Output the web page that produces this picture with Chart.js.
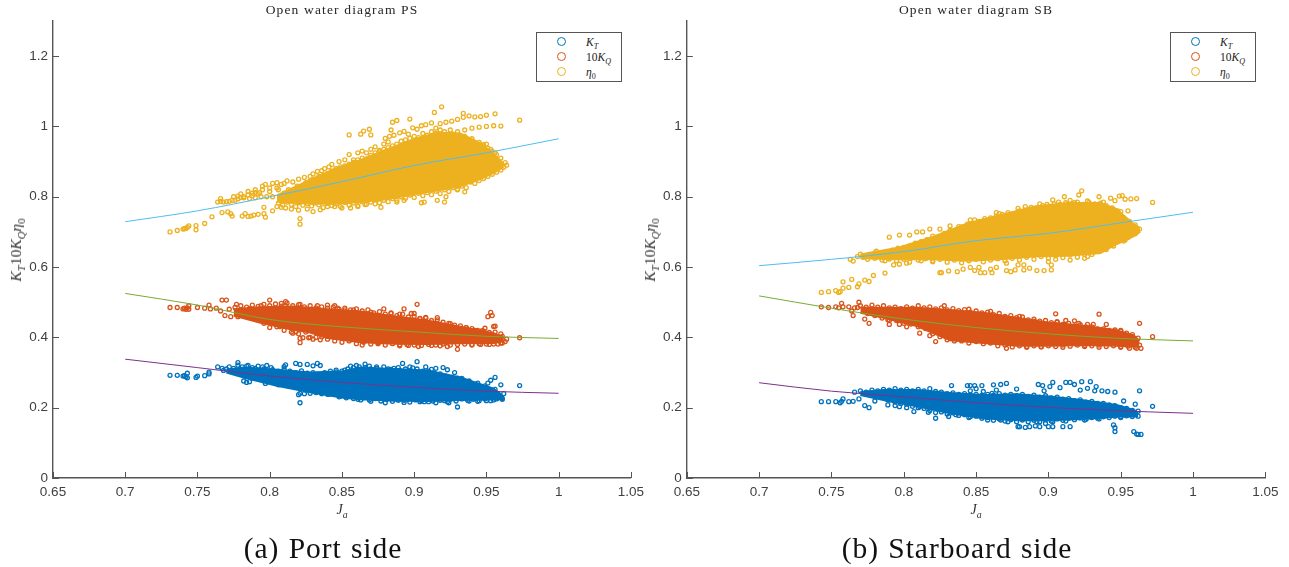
<!DOCTYPE html>
<html>
<head>
<meta charset="utf-8">
<title>Open water diagram</title>
<script src="https://cdn.jsdelivr.net/npm/chart.js@4/dist/chart.umd.min.js"></script>
<style>
html,body{margin:0;padding:0;background:#fff;}
#page{position:relative;width:1289px;height:567px;overflow:hidden;font-family:"Liberation Serif",serif;color:#222;}
canvas{position:absolute;top:0;}
.txt{position:absolute;white-space:nowrap;transform:translate(-50%,-50%);}
.title{font-size:13.5px;letter-spacing:1.15px;top:10px;color:#262626;}
.xlab{font-size:14px;font-style:italic;top:510px;color:#333;}
.ylab{font-size:15.5px;font-style:italic;top:250px;transform:translate(-50%,-50%) rotate(-90deg);color:#333;}
.cap{font-size:29.5px;letter-spacing:.95px;word-spacing:1px;top:548px;color:#111;}
sub{font-size:.7em;line-height:0;}
.up{font-style:normal;}
.legend{position:absolute;top:32px;height:48px;border:1.4px solid #555;background:#fff;}
.legend .m{position:absolute;left:20px;width:7px;height:7px;border-radius:50%;border:1.7px solid;}
.legend .l{position:absolute;left:49px;font-size:11.5px;font-style:italic;line-height:14px;color:#222;white-space:nowrap;}
</style>
</head>
<body>
<div id="page">
  <canvas id="chartPS" width="650" height="520" style="left:0"></canvas>
  <canvas id="chartSB" width="649" height="520" style="left:640px"></canvas>
  <div class="txt title" style="left:342px">Open water diagram PS</div>
  <div class="txt title" style="left:976px">Open water diagram SB</div>
  <div class="txt xlab" style="left:342px">J<sub>a</sub></div>
  <div class="txt xlab" style="left:976px">J<sub>a</sub></div>
  <div class="txt ylab" style="left:16px">K<sub>T</sub><span class="up">10</span>K<sub>Q</sub>η<sub class="up">0</sub></div>
  <div class="txt ylab" style="left:650px">K<sub>T</sub><span class="up">10</span>K<sub>Q</sub>η<sub class="up">0</sub></div>
  <div class="txt cap" style="left:323px">(a) Port side</div>
  <div class="txt cap" style="left:957px">(b) Starboard side</div>
  <div class="legend" id="legPS" style="left:536px;width:84px"></div>
  <div class="legend" id="legSB" style="left:1170px;width:84px"></div>
</div>
<script>
// axis ticks
var xTicks = [0.65, 0.7, 0.75, 0.8, 0.85, 0.9, 0.95, 1, 1.05];
var yTicks = [0, 0.2, 0.4, 0.6, 0.8, 1, 1.2];

// fitted curves, same J values for all of them
var fitJ = [0.7, 0.75, 0.8, 0.85, 0.9, 0.95, 1];
var psFitKT = [0.338, 0.314, 0.290, 0.272, 0.258, 0.247, 0.241];
var psFitKQ = [0.525, 0.492, 0.451, 0.430, 0.416, 0.403, 0.397];
var psFitEta = [0.729, 0.760, 0.800, 0.843, 0.889, 0.925, 0.965];
var sbFitKT = [0.271, 0.247, 0.231, 0.214, 0.201, 0.191, 0.184];
var sbFitKQ = [0.518, 0.483, 0.452, 0.428, 0.410, 0.397, 0.390];
var sbFitEta = [0.604, 0.622, 0.644, 0.675, 0.696, 0.726, 0.756];

// the solid middle of each cloud, read as upper and lower edge
var psKTCoreJ = [0.770, 0.782, 0.805, 0.828, 0.851, 0.863, 0.886, 0.909, 0.932, 0.955, 0.962];
var psKTCoreHi = [0.308, 0.314, 0.308, 0.300, 0.304, 0.314, 0.310, 0.306, 0.286, 0.254, 0.231];
var psKTCoreLo = [0.300, 0.286, 0.262, 0.244, 0.228, 0.224, 0.220, 0.219, 0.222, 0.223, 0.224];
var psKQCoreJ = [0.775, 0.793, 0.816, 0.828, 0.840, 0.863, 0.886, 0.909, 0.932, 0.955, 0.962];
var psKQCoreHi = [0.480, 0.486, 0.488, 0.484, 0.480, 0.474, 0.460, 0.448, 0.430, 0.412, 0.399];
var psKQCoreLo = [0.462, 0.442, 0.422, 0.414, 0.398, 0.386, 0.382, 0.381, 0.383, 0.384, 0.389];
var psEtaCoreJ = [0.805, 0.828, 0.844, 0.863, 0.881, 0.900, 0.916, 0.932, 0.946, 0.955, 0.962];
var psEtaCoreHi = [0.804, 0.848, 0.878, 0.905, 0.935, 0.964, 0.982, 0.980, 0.952, 0.922, 0.893];
var psEtaCoreLo = [0.786, 0.780, 0.780, 0.785, 0.793, 0.808, 0.818, 0.830, 0.850, 0.868, 0.884];

var sbKTCoreJ = [0.770, 0.786, 0.809, 0.832, 0.855, 0.878, 0.901, 0.924, 0.947, 0.959, 0.962];
var sbKTCoreHi = [0.245, 0.250, 0.250, 0.242, 0.236, 0.238, 0.232, 0.221, 0.208, 0.194, 0.186];
var sbKTCoreLo = [0.236, 0.222, 0.204, 0.184, 0.170, 0.164, 0.164, 0.168, 0.174, 0.175, 0.176];
var sbKQCoreJ = [0.770, 0.786, 0.809, 0.832, 0.855, 0.878, 0.901, 0.924, 0.947, 0.959, 0.963];
var sbKQCoreHi = [0.485, 0.484, 0.484, 0.478, 0.470, 0.456, 0.442, 0.433, 0.420, 0.406, 0.390];
var sbKQCoreLo = [0.470, 0.456, 0.432, 0.392, 0.384, 0.376, 0.376, 0.378, 0.376, 0.374, 0.373];
var sbEtaCoreJ = [0.770, 0.797, 0.820, 0.844, 0.867, 0.890, 0.913, 0.936, 0.947, 0.959, 0.9634];
var sbEtaCoreHi = [0.636, 0.656, 0.686, 0.724, 0.748, 0.772, 0.782, 0.782, 0.765, 0.722, 0.710];
var sbEtaCoreLo = [0.625, 0.622, 0.622, 0.618, 0.622, 0.630, 0.632, 0.640, 0.665, 0.688, 0.700];

// separate samples around the solid middle
var psKTPts = [[.731,.292],[.736,.292],[.740,.290],[.741,.291],[.742,.288],[.743,.298],[.743,.285],[.750,.290],[.749,.286],[.755,.291],[.758,.301],[.758,.296],[.764,.316],[.767,.312],[.770,.310],[.772,.316],[.775,.312],[.778,.328],[.778,.321],[.781,.316],[.785,.320],[.788,.314],[.792,.318],[.795,.316],[.798,.320],[.801,.314],[.782,.276],[.784,.272],[.786,.274],[.788,.284],[.797,.269],[.799,.274],[.806,.265],[.811,.322],[.810,.317],[.818,.326],[.821,.323],[.826,.323],[.830,.319],[.833,.326],[.835,.320],[.842,.304],[.846,.307],[.852,.307],[.821,.214],[.821,.241],[.820,.237],[.824,.240],[.828,.241],[.832,.243],[.836,.240],[.840,.238],[.844,.238],[.848,.231],[.856,.318],[.860,.320],[.866,.324],[.869,.318],[.874,.312],[.879,.316],[.884,.309],[.889,.314],[.892,.326],[.897,.316],[.902,.331],[.899,.313],[.908,.316],[.912,.309],[.915,.312],[.920,.314],[.923,.308],[.928,.300],[.933,.283],[.938,.276],[.944,.270],[.949,.262],[.951,.270],[.956,.286],[.953,.278],[.960,.265],[.956,.252],[.962,.240],[.973,.263],[.904,.217],[.907,.217],[.910,.217],[.915,.214],[.918,.221],[.923,.217],[.924,.214],[.930,.202],[.893,.215],[.889,.221],[.880,.214],[.870,.218],[.863,.222],[.858,.226],[.938,.219],[.944,.218],[.950,.220],[.955,.222],[.961,.224],
[.768,.306],[.773,.304],[.777,.300],[.781,.303],[.785,.296],[.789,.291],[.793,.296],[.797,.282],[.801,.285],[.805,.274],[.809,.268],[.813,.262],[.817,.266],[.821,.258],[.825,.25],[.829,.255],[.833,.245],[.837,.25],[.841,.238],[.845,.243],[.849,.233],[.853,.228],[.857,.232],[.861,.224],[.865,.228],[.869,.222],[.873,.226],[.877,.219],[.881,.224],[.885,.218],[.889,.227],[.893,.221],[.897,.216],[.901,.222],[.905,.22],[.909,.224],[.913,.219],[.917,.225],[.921,.22],[.925,.224],[.929,.219],[.933,.225],[.937,.221],[.941,.224],[.945,.22],[.949,.225],[.953,.22],[.957,.225],[.961,.226],
[.784,.318],[.79,.312],[.796,.31],[.802,.308],[.806,.304],[.81,.31],[.814,.304],[.818,.3],[.822,.305],[.826,.298],[.83,.3],[.834,.295],[.838,.3],[.842,.296],[.846,.302],[.85,.304],[.854,.31],[.858,.314],[.862,.316],[.866,.314],[.87,.31],[.874,.316],[.878,.306],[.882,.31],[.886,.312],[.89,.306],[.894,.31],[.898,.305],[.902,.31],[.906,.304],[.91,.304],[.914,.298],[.918,.296],[.922,.29],[.926,.286],[.93,.284],[.934,.278],[.938,.268],[.942,.262],[.946,.256],[.95,.25],[.954,.245],[.958,.24]];
var psKQPts = [[.731,.485],[.736,.485],[.740,.481],[.741,.483],[.742,.480],[.743,.484],[.744,.490],[.744,.480],[.750,.485],[.755,.483],[.758,.492],[.759,.481],[.763,.483],[.767,.506],[.770,.506],[.766,.475],[.769,.462],[.773,.459],[.778,.459],[.777,.494],[.781,.478],[.786,.482],[.785,.470],[.790,.466],[.794,.490],[.800,.506],[.803,.440],[.807,.431],[.808,.497],[.811,.502],[.811,.490],[.816,.412],[.821,.494],[.818,.416],[.833,.490],[.840,.492],[.845,.490],[.847,.483],[.827,.399],[.821,.385],[.821,.397],[.823,.399],[.828,.400],[.832,.400],[.836,.402],[.852,.478],[.858,.478],[.864,.378],[.870,.472],[.875,.382],[.879,.481],[.884,.468],[.890,.466],[.893,.481],[.890,.376],[.896,.377],[.898,.468],[.900,.468],[.902,.494],[.904,.454],[.908,.457],[.903,.374],[.912,.377],[.916,.456],[.918,.376],[.923,.374],[.925,.439],[.930,.366],[.936,.428],[.942,.420],[.947,.419],[.949,.426],[.951,.459],[.953,.471],[.954,.462],[.955,.431],[.956,.432],[.940,.378],[.946,.380],[.952,.380],[.958,.381],[.961,.384],[.961,.403],[.973,.399],
[.772,.48],[.776,.485],[.78,.49],[.784,.486],[.788,.492],[.792,.488],[.796,.494],[.8,.49],[.804,.495],[.808,.489],[.812,.498],[.816,.49],[.82,.493],[.824,.487],[.828,.49],[.832,.484],[.836,.487],[.84,.483],[.844,.486],[.848,.48],[.852,.483],[.856,.478],[.86,.481],[.864,.475],[.868,.478],[.872,.47],[.876,.473],[.88,.466],[.884,.47],[.888,.462],[.892,.466],[.896,.458],[.9,.46],[.904,.453],[.908,.455],[.912,.448],[.916,.45],[.92,.443],[.924,.44],[.928,.435],[.932,.433],[.936,.428],[.94,.425],[.944,.42],[.948,.418],[.952,.414],[.956,.415],[.96,.41],
[.78,.468],[.784,.46],[.788,.456],[.792,.45],[.796,.44],[.8,.428],[.805,.43],[.81,.42],[.815,.415],[.82,.41],[.825,.415],[.83,.395],[.835,.393],[.84,.395],[.845,.39],[.85,.386],[.855,.39],[.86,.382],[.865,.386],[.87,.381],[.875,.385],[.88,.378],[.885,.382],[.89,.379],[.895,.38],[.9,.378],[.905,.377],[.91,.38],[.915,.378],[.92,.381],[.925,.378],[.93,.38],[.935,.381],[.94,.38],[.945,.382],[.95,.381],[.955,.381],[.96,.384],[.963,.388],[.964,.395]];
var psEtaPts = [[.731,.700],[.736,.704],[.740,.708],[.741,.709],[.742,.710],[.743,.713],[.744,.717],[.749,.706],[.749,.718],[.755,.724],[.760,.743],[.767,.755],[.771,.757],[.773,.752],[.774,.745],[.781,.745],[.783,.752],[.785,.744],[.787,.745],[.789,.748],[.792,.750],[.796,.752],[.796,.770],[.797,.742],[.802,.760],[.805,.772],[.808,.770],[.811,.768],[.815,.765],[.820,.762],[.821,.738],[.821,.722],[.826,.765],[.830,.758],[.835,.763],[.840,.772],[.845,.772],[.850,.768],[.856,.768],[.861,.772],[.866,.778],[.873,.780],[.877,.770],[.888,.785],[.893,.790],[.905,.783],[.907,.785],[.916,.790],[.921,.785],[.922,.800],[.930,.820],[.935,.814],[.930,.830],[.764,.785],[.766,.795],[.768,.785],[.772,.787],[.776,.790],[.778,.802],[.780,.798],[.782,.800],[.785,.815],[.788,.810],[.790,.820],[.793,.812],[.795,.830],[.797,.835],[.800,.825],[.802,.838],[.805,.840],[.808,.835],[.806,.820],[.812,.845],[.816,.842],[.820,.850],[.824,.855],[.828,.858],[.830,.865],[.833,.872],[.836,.874],[.838,.880],[.841,.885],[.843,.892],[.846,.880],[.848,.900],[.852,.905],[.855,.920],[.858,.905],[.861,.925],[.864,.930],[.867,.925],[.870,.935],[.873,.942],[.876,.932],[.879,.950],[.882,.956],[.880,.966],[.883,.972],[.886,.975],[.890,.982],[.893,.986],[.896,.978],[.899,.996],[.902,.992],[.905,1.002],[.908,1.005],[.912,1.010],[.915,.995],[.918,1.008],[.922,1.012],[.926,1.015],[.930,1.020],[.934,1.026],[.938,1.030],[.942,1.027],[.946,1.028],[.950,1.032],[.925,.990],[.930,.985],[.935,.990],[.940,.995],[.945,.998],[.950,1.000],[.955,1.002],[.960,1.001],[.944,.943],[.948,.948],[.950,.950],[.953,.935],[.956,.925],[.940,.965],[.935,.972],[.855,.976],[.863,.978],[.865,.987],[.869,.992],[.870,.976],[.884,.990],[.885,1.012],[.888,1.017],[.897,1.021],[.914,1.040],[.919,1.056],[.934,1.037],[.956,1.036],[.973,1.018],
[.806,.782],[.809,.776],[.812,.785],[.815,.778],[.818,.772],[.82,.783],[.823,.776],[.826,.78],[.829,.774],[.831,.782],[.834,.777],[.837,.769],[.84,.781],[.843,.775],[.846,.78],[.849,.772],[.852,.784],[.855,.776],[.858,.782],[.861,.775],[.864,.786],[.867,.779],[.87,.785],[.873,.792],[.876,.783],[.879,.79],[.882,.786],[.885,.795],[.888,.79],[.891,.8],[.894,.796],[.897,.805],[.9,.798],[.903,.81],[.906,.803],[.909,.812],[.912,.806],[.915,.816],[.918,.809],[.921,.82],[.924,.815],[.927,.826],[.93,.822],[.933,.83],[.936,.826],[.939,.842],[.942,.838],[.945,.846],[.948,.852],[.951,.858],[.954,.864],[.957,.87],[.96,.876],[.962,.884],[.964,.89],
[.81,.81],[.813,.82],[.816,.815],[.819,.83],[.822,.825],[.825,.84],[.828,.845],[.831,.85],[.834,.858],[.837,.86],[.84,.866],[.843,.873],[.846,.88],[.849,.885],[.852,.888],[.855,.893],[.858,.898],[.861,.905],[.864,.91],[.867,.908],[.87,.918],[.873,.925],[.876,.928],[.879,.935],[.882,.94],[.885,.945],[.888,.95],[.891,.958],[.894,.962],[.897,.966],[.9,.972],[.903,.968],[.906,.98],[.909,.975],[.912,.985],[.915,.98],[.918,.99],[.921,.985],[.924,.975],[.927,.978],[.93,.97],[.933,.968],[.936,.962],[.939,.958],[.942,.95],[.945,.955],[.948,.945],[.951,.938],[.954,.93],[.957,.92],[.96,.91],[.963,.897],
[.766,.787],[.77,.786],[.774,.79],[.778,.794],[.782,.797],[.786,.795],[.79,.797],[.794,.8],[.798,.8],[.802,.8],[.775,.8],[.78,.808],[.785,.805],[.79,.812],[.795,.82],[.8,.815],[.805,.825],[.81,.838],[.788,.803],[.792,.808]];

var sbKTPts = [[.743,.217],[.748,.217],[.753,.217],[.756,.214],[.757,.218],[.758,.225],[.762,.217],[.765,.218],[.769,.225],[.773,.206],[.776,.200],[.780,.219],[.789,.222],[.789,.208],[.793,.220],[.794,.206],[.797,.220],[.797,.203],[.802,.200],[.807,.189],[.811,.203],[.817,.187],[.822,.170],[.831,.175],[.833,.263],[.844,.263],[.846,.263],[.849,.263],[.854,.263],[.846,.248],[.850,.254],[.855,.246],[.862,.265],[.867,.266],[.871,.269],[.861,.241],[.864,.250],[.878,.253],[.893,.266],[.896,.263],[.897,.248],[.901,.260],[.903,.272],[.908,.257],[.912,.272],[.915,.272],[.918,.266],[.923,.274],[.929,.274],[.922,.250],[.927,.255],[.933,.260],[.932,.248],[.937,.248],[.941,.246],[.946,.244],[.963,.248],[.960,.210],[.972,.204],[.952,.219],[.945,.151],[.946,.143],[.946,.132],[.959,.132],[.961,.125],[.962,.124],[.964,.124],[.879,.146],[.880,.146],[.884,.144],[.887,.146],[.892,.160],[.891,.148],[.894,.146],[.898,.155],[.900,.146],[.903,.160],[.903,.146],[.910,.146],[.915,.146],[.867,.165],[.872,.160],[.858,.165],[.845,.172],[.836,.180],[.912,.162],[.925,.165],[.935,.168],[.950,.172],
[.766,.244],[.77,.248],[.774,.244],[.778,.25],[.782,.248],[.786,.252],[.79,.25],[.794,.254],[.798,.25],[.802,.252],[.806,.248],[.81,.252],[.814,.248],[.818,.254],[.822,.246],[.826,.244],[.83,.24],[.834,.242],[.838,.238],[.842,.24],[.846,.236],[.85,.238],[.854,.235],[.858,.238],[.862,.236],[.866,.24],[.87,.236],[.874,.238],[.878,.234],[.882,.238],[.886,.232],[.89,.236],[.894,.23],[.898,.234],[.902,.228],[.906,.23],[.91,.224],[.914,.226],[.918,.22],[.922,.222],[.926,.216],[.93,.218],[.934,.212],[.938,.212],[.942,.208],[.946,.206],[.95,.2],[.954,.198],[.958,.192],[.962,.19],
[.79,.222],[.794,.216],[.798,.212],[.802,.21],[.806,.204],[.81,.2],[.814,.198],[.818,.192],[.822,.186],[.826,.188],[.83,.182],[.834,.185],[.838,.178],[.842,.18],[.846,.174],[.85,.176],[.854,.17],[.858,.172],[.862,.164],[.866,.168],[.87,.162],[.874,.166],[.878,.16],[.882,.165],[.886,.16],[.89,.164],[.894,.16],[.898,.166],[.902,.162],[.906,.168],[.91,.164],[.914,.17],[.918,.166],[.922,.171],[.926,.167],[.93,.172],[.934,.17],[.938,.174],[.942,.172],[.946,.176],[.95,.174],[.954,.177],[.958,.175],[.962,.176]];
var sbKQPts = [[.743,.487],[.748,.485],[.753,.487],[.755,.484],[.757,.497],[.758,.487],[.762,.487],[.764,.475],[.765,.462],[.769,.500],[.768,.485],[.773,.452],[.776,.440],[.783,.473],[.790,.437],[.789,.450],[.797,.437],[.802,.430],[.806,.445],[.811,.412],[.818,.405],[.822,.388],[.830,.411],[.841,.397],[.835,.398],[.828,.490],[.845,.480],[.860,.474],[.871,.369],[.880,.460],[.890,.446],[.905,.467],[.912,.448],[.906,.445],[.918,.447],[.921,.440],[.927,.437],[.931,.437],[.935,.466],[.940,.437],[.950,.420],[.963,.440],[.972,.402],[.964,.369],[.961,.369],[.956,.369],[.950,.372],[.935,.372],[.925,.374],[.910,.372],[.895,.373],[.885,.372],
[.766,.484],[.77,.49],[.774,.486],[.778,.492],[.782,.486],[.786,.49],[.79,.484],[.794,.486],[.798,.482],[.802,.487],[.806,.483],[.81,.49],[.814,.484],[.818,.487],[.822,.481],[.826,.484],[.83,.478],[.834,.482],[.838,.476],[.842,.479],[.846,.472],[.85,.475],[.854,.47],[.858,.472],[.862,.465],[.866,.468],[.87,.46],[.874,.462],[.878,.456],[.882,.458],[.886,.45],[.89,.452],[.894,.446],[.898,.448],[.902,.442],[.906,.443],[.91,.437],[.914,.44],[.918,.433],[.922,.436],[.926,.43],[.93,.43],[.934,.424],[.938,.424],[.942,.42],[.946,.421],[.95,.418],[.954,.412],[.958,.408],[.962,.398],
[.775,.468],[.78,.462],[.785,.455],[.79,.448],[.795,.448],[.8,.44],[.805,.438],[.81,.43],[.815,.425],[.82,.41],[.825,.402],[.83,.393],[.835,.39],[.84,.39],[.845,.384],[.85,.388],[.855,.382],[.86,.384],[.865,.376],[.87,.378],[.875,.373],[.88,.376],[.885,.374],[.89,.376],[.895,.374],[.9,.376],[.905,.374],[.91,.378],[.915,.375],[.92,.378],[.925,.377],[.93,.376],[.935,.378],[.94,.374],[.945,.376],[.95,.374],[.955,.375],[.96,.372],[.963,.378]];
var sbEtaPts = [[.743,.528],[.748,.530],[.753,.533],[.755,.528],[.756,.530],[.758,.540],[.758,.558],[.762,.542],[.764,.565],[.768,.544],[.769,.552],[.773,.563],[.776,.559],[.779,.576],[.787,.583],[.763,.622],[.765,.617],[.770,.637],[.775,.632],[.781,.645],[.787,.628],[.790,.685],[.797,.691],[.793,.606],[.797,.608],[.802,.611],[.804,.614],[.787,.618],[.804,.691],[.809,.700],[.813,.700],[.818,.708],[.825,.708],[.832,.717],[.838,.715],[.846,.734],[.849,.734],[.856,.738],[.864,.755],[.866,.752],[.812,.618],[.820,.615],[.825,.584],[.826,.584],[.831,.589],[.837,.587],[.841,.594],[.846,.599],[.849,.590],[.852,.599],[.853,.584],[.856,.584],[.860,.594],[.861,.584],[.864,.599],[.871,.611],[.871,.590],[.874,.587],[.877,.592],[.879,.606],[.883,.606],[.883,.592],[.887,.597],[.892,.590],[.897,.590],[.900,.615],[.902,.606],[.902,.592],[.905,.622],[.915,.620],[.925,.625],[.879,.767],[.884,.772],[.890,.767],[.894,.780],[.899,.778],[.903,.791],[.907,.785],[.911,.800],[.915,.790],[.918,.783],[.921,.805],[.923,.817],[.927,.788],[.935,.800],[.938,.785],[.943,.796],[.949,.802],[.951,.803],[.946,.789],[.953,.793],[.957,.794],[.961,.795],[.972,.784],[.955,.760],[.950,.758],[.951,.743],[.945,.764],[.942,.762],[.954,.723],[.953,.677],[.963,.708],[.959,.705],[.952,.674],[.948,.674],[.927,.630],[.926,.648],[.932,.660],[.945,.668],[.940,.650],
[.768,.63],[.772,.628],[.776,.636],[.78,.64],[.784,.638],[.788,.644],[.792,.648],[.796,.654],[.8,.656],[.804,.66],[.808,.668],[.812,.672],[.816,.678],[.82,.688],[.824,.684],[.828,.696],[.832,.704],[.836,.702],[.84,.714],[.844,.722],[.848,.724],[.852,.73],[.856,.732],[.86,.74],[.864,.745],[.868,.75],[.872,.755],[.876,.752],[.88,.76],[.884,.762],[.888,.77],[.892,.768],[.896,.775],[.9,.772],[.904,.78],[.908,.778],[.912,.783],[.916,.78],[.92,.785],[.924,.778],[.928,.784],[.932,.78],[.936,.782],[.94,.775],[.944,.768],[.948,.76],[.952,.74],[.956,.73],[.96,.72],
[.775,.622],[.78,.625],[.785,.62],[.79,.623],[.795,.618],[.8,.622],[.805,.626],[.81,.62],[.815,.624],[.82,.618],[.825,.622],[.83,.614],[.835,.62],[.84,.612],[.845,.618],[.85,.622],[.855,.615],[.86,.62],[.865,.624],[.87,.618],[.875,.625],[.88,.62],[.885,.628],[.89,.622],[.895,.63],[.9,.625],[.905,.632],[.91,.627],[.915,.634],[.92,.628],[.925,.636],[.93,.636],[.935,.644],[.94,.655],[.945,.66],[.95,.676],[.955,.684],[.96,.695]];

var colors = { kt: "#0072BD", kq: "#D95319", eta: "#EDB120", fitKT: "#7E2F8E", fitKQ: "#77AC30", fitEta: "#4DBEEE" };

function toXY(xs, ys) {
    return xs.map(function(x, i) { return { x: x, y: ys[i] }; });
}

function pairs(list) {
    return list.map(function(p) { return { x: p[0], y: p[1] }; });
}

function cloud(pts, coreJ, coreHi, coreLo, color, order) {
    return [
        { type: "line", data: toXY(coreJ, coreHi), borderColor: color, borderWidth: 2, backgroundColor: color,
          pointRadius: 0, fill: "+1", order: order + 1 },
        { type: "line", data: toXY(coreJ, coreLo), borderColor: color, borderWidth: 2, pointRadius: 0, fill: false, order: order + 1 },
        { type: "scatter", data: pairs(pts), borderColor: color, backgroundColor: "rgba(0,0,0,0)", borderWidth: 1.3,
          pointRadius: 2, order: order }
    ];
}

function fitLine(ys, color) {
    return { type: "line", data: toXY(fitJ, ys), borderColor: color, borderWidth: 1, pointRadius: 0,
             cubicInterpolationMode: "monotone", fill: false, order: 0 };
}

// MATLAB style ticks pointing into the plot
var inwardTicks = {
    id: "inwardTicks",
    afterDraw: function(chart) {
        var ctx = chart.ctx, a = chart.chartArea;
        ctx.save();
        ctx.strokeStyle = "#555";
        ctx.lineWidth = 1;
        ctx.beginPath();
        xTicks.forEach(function(v) {
            var p = Math.round(chart.scales.x.getPixelForValue(v)) + 0.5;
            ctx.moveTo(p, a.bottom);
            ctx.lineTo(p, a.bottom - 6);
        });
        yTicks.forEach(function(v) {
            var p = Math.round(chart.scales.y.getPixelForValue(v)) + 0.5;
            ctx.moveTo(a.left, p);
            ctx.lineTo(a.left + 6, p);
        });
        ctx.stroke();
        ctx.restore();
    }
};

function tickText(v) {
    return String(+v.toFixed(2));
}

function makeChart(id, datasets, axisLeft, rightPad) {
    return new Chart(document.getElementById(id), {
        type: "scatter",
        data: { datasets: datasets },
        plugins: [inwardTicks],
        options: {
            responsive: false,
            animation: false,
            events: [],
            layout: { padding: { top: 21, right: rightPad, left: 0, bottom: 0 } },
            plugins: { legend: { display: false }, tooltip: { enabled: false } },
            scales: {
                x: {
                    type: "linear", min: xTicks[0], max: xTicks[xTicks.length - 1],
                    grid: { display: false, drawTicks: false },
                    border: { display: true, color: "#555", width: 1.4 },
                    afterBuildTicks: function(s) { s.ticks = xTicks.map(function(v) { return { value: v }; }); },
                    afterFit: function(s) { s.height = 42; },
                    ticks: { autoSkip: false, maxRotation: 0, padding: 6, color: "#404040", callback: tickText,
                             font: { family: "Liberation Sans", size: 13.5 } }
                },
                y: {
                    type: "linear", min: 0, max: 1.3,
                    grid: { display: false, drawTicks: false },
                    border: { display: true, color: "#555", width: 1.4 },
                    afterBuildTicks: function(s) { s.ticks = yTicks.map(function(v) { return { value: v }; }); },
                    afterFit: function(s) { s.width = axisLeft; },
                    ticks: { padding: 5, color: "#404040", callback: tickText,
                             font: { family: "Liberation Sans", size: 13.5 } }
                }
            }
        }
    });
}

makeChart("chartPS", [].concat(
    cloud(psKTPts, psKTCoreJ, psKTCoreHi, psKTCoreLo, colors.kt, 5),
    cloud(psKQPts, psKQCoreJ, psKQCoreHi, psKQCoreLo, colors.kq, 3),
    cloud(psEtaPts, psEtaCoreJ, psEtaCoreHi, psEtaCoreLo, colors.eta, 1),
    [fitLine(psFitKT, colors.fitKT), fitLine(psFitKQ, colors.fitKQ), fitLine(psFitEta, colors.fitEta)]
), 53, 18.6);

makeChart("chartSB", [].concat(
    cloud(sbKTPts, sbKTCoreJ, sbKTCoreHi, sbKTCoreLo, colors.kt, 5),
    cloud(sbKQPts, sbKQCoreJ, sbKQCoreHi, sbKQCoreLo, colors.kq, 3),
    cloud(sbEtaPts, sbEtaCoreJ, sbEtaCoreHi, sbEtaCoreLo, colors.eta, 1),
    [fitLine(sbFitKT, colors.fitKT), fitLine(sbFitKQ, colors.fitKQ), fitLine(sbFitEta, colors.fitEta)]
), 46.8, 23.6);

// legends, the subscripts are why these are html
var legendRows = [
    { color: colors.kt, html: "K<sub>T</sub>" },
    { color: colors.kq, html: '<span class="up">10</span>K<sub>Q</sub>' },
    { color: colors.eta, html: 'η<sub class="up">0</sub>' }
];
["legPS", "legSB"].forEach(function(id) {
    var box = document.getElementById(id);
    legendRows.forEach(function(r, i) {
        box.innerHTML += '<span class="m" style="top:' + (4 + i * 15) + 'px;border-color:' + r.color + '"></span>' +
            '<span class="l" style="top:' + (2 + i * 15) + 'px">' + r.html + '</span>';
    });
});
</script>
</body>
</html>
